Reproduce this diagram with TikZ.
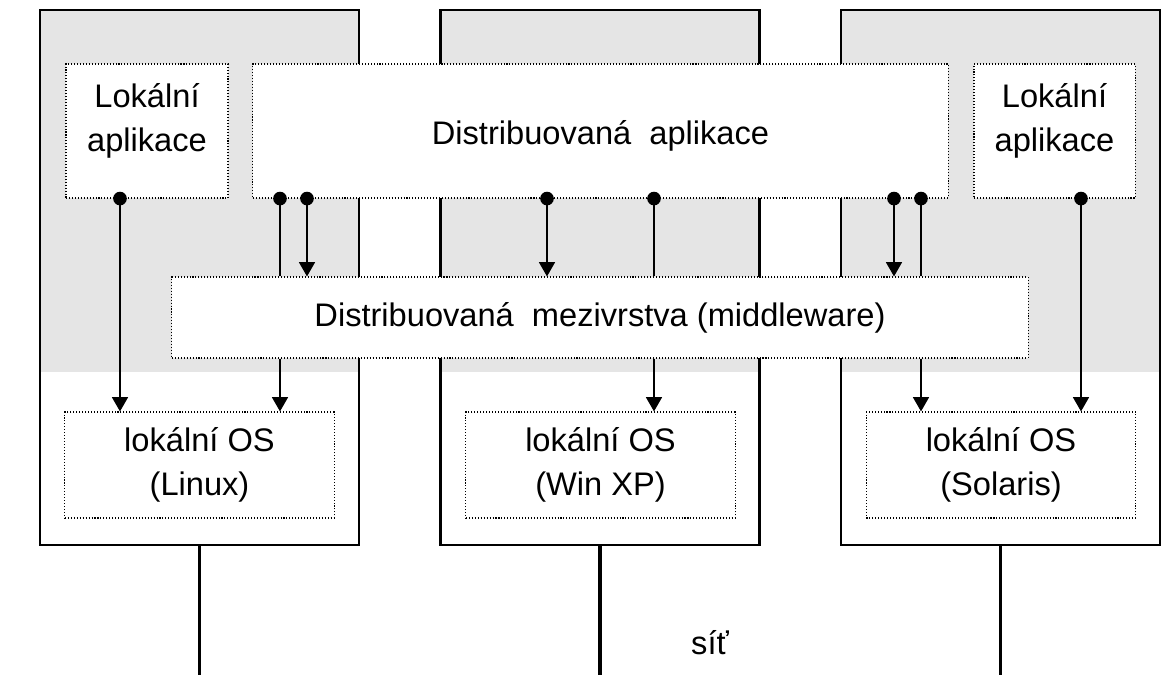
\documentclass[tikz,border=0pt]{standalone}
\usepackage{fontspec}
\setmainfont{Liberation Sans}
\usetikzlibrary{positioning}
\usetikzlibrary{arrows.meta}
\definecolor{granite}{RGB}{229,229,229}

\begin{document}
\begin{tikzpicture}
[
x=0.025cm, y=-0.025cm,
font=\fontsize{23.2pt}{31pt}\selectfont,
machine/.style={rectangle, draw, line width=2pt, minimum width=7.975cm, minimum height=13.375cm},
box/.style={rectangle, draw, fill=white, align=center, line width=0.75pt, dash pattern=on 0.75pt off 1.35pt},
dotarrow/.style={line width=1.3pt, arrows={Circle[length=0.34cm]-Triangle[width=0.4cm,length=0.36cm]}, shorten <=-0.17cm},
dotline/.style={line width=1.3pt, arrows={Circle[length=0.34cm]-}, shorten <=-0.17cm},
arrow/.style={line width=1.3pt, arrows={-Triangle[width=0.4cm,length=0.36cm]}},
net/.style={line width=2.2pt},
]
\useasboundingbox (0,0) rectangle (1167,675);
% grey tops of the machines
\fill [granite] (40,10) rectangle (359,372);
\fill [granite] (440,10) rectangle (760,372);
\fill [granite] (842,10) rectangle (1159,372);
\node (m1) [machine] at (199.5,277.5) {};
\node (m2) [machine] at (600,277.5) {};
\node (m3) [machine] at (1000.5,277.5) {};
\node (lapp1) [box, minimum width=4.05cm, minimum height=3.35cm, text depth=0.68cm] at (147,131) {Lokální\\aplikace};
\node (dapp) [box, minimum width=17.375cm, minimum height=3.35cm, text height=0.85cm] at (600.5,131) {Distribuovaná\ \ aplikace};
\node (lapp2) [box, minimum width=4.025cm, minimum height=3.35cm, text depth=0.68cm] at (1054.5,131) {Lokální\\aplikace};
\node (mw) [box, minimum width=21.4cm, minimum height=2.025cm] at (600,317.5) {Distribuovaná\ \ mezivrstva (middleware)};
\node (os1) [box, minimum width=6.725cm, minimum height=2.65cm] at (199.5,465) {lokální OS\\(Linux)};
\node (os2) [box, minimum width=6.725cm, minimum height=2.65cm] at (600.5,465) {lokální OS\\(Win XP)};
\node (os3) [box, minimum width=6.725cm, minimum height=2.65cm] at (1001,465) {lokální OS\\(Solaris)};
% calls
\draw [dotarrow] (120,0 |- lapp1.south) -- (120,0 |- os1.north);
\draw [dotline] (280,0 |- dapp.south) -- (280,0 |- mw.north);
\draw [arrow] (280,0 |- mw.south) -- (280,0 |- os1.north);
\draw [dotarrow] (307,0 |- dapp.south) -- (307,0 |- mw.north);
\draw [dotarrow] (547,0 |- dapp.south) -- (547,0 |- mw.north);
\draw [dotline] (654,0 |- dapp.south) -- (654,0 |- mw.north);
\draw [arrow] (654,0 |- mw.south) -- (654,0 |- os2.north);
\draw [dotarrow] (894,0 |- dapp.south) -- (894,0 |- mw.north);
\draw [dotline] (921,0 |- dapp.south) -- (921,0 |- mw.north);
\draw [arrow] (921,0 |- mw.south) -- (921,0 |- os3.north);
\draw [dotarrow] (1081,0 |- lapp2.south) -- (1081,0 |- os3.north);
% network
\coordinate (netbot) at (0,675);
\draw [net] (m1.south) -- (m1.south |- netbot);
\draw [net] (m2.south) -- (m2.south |- netbot);
\draw [net] (m3.south) -- (m3.south |- netbot);
\node (sit) at (710,643) {síť};
\end{tikzpicture}
\end{document}
